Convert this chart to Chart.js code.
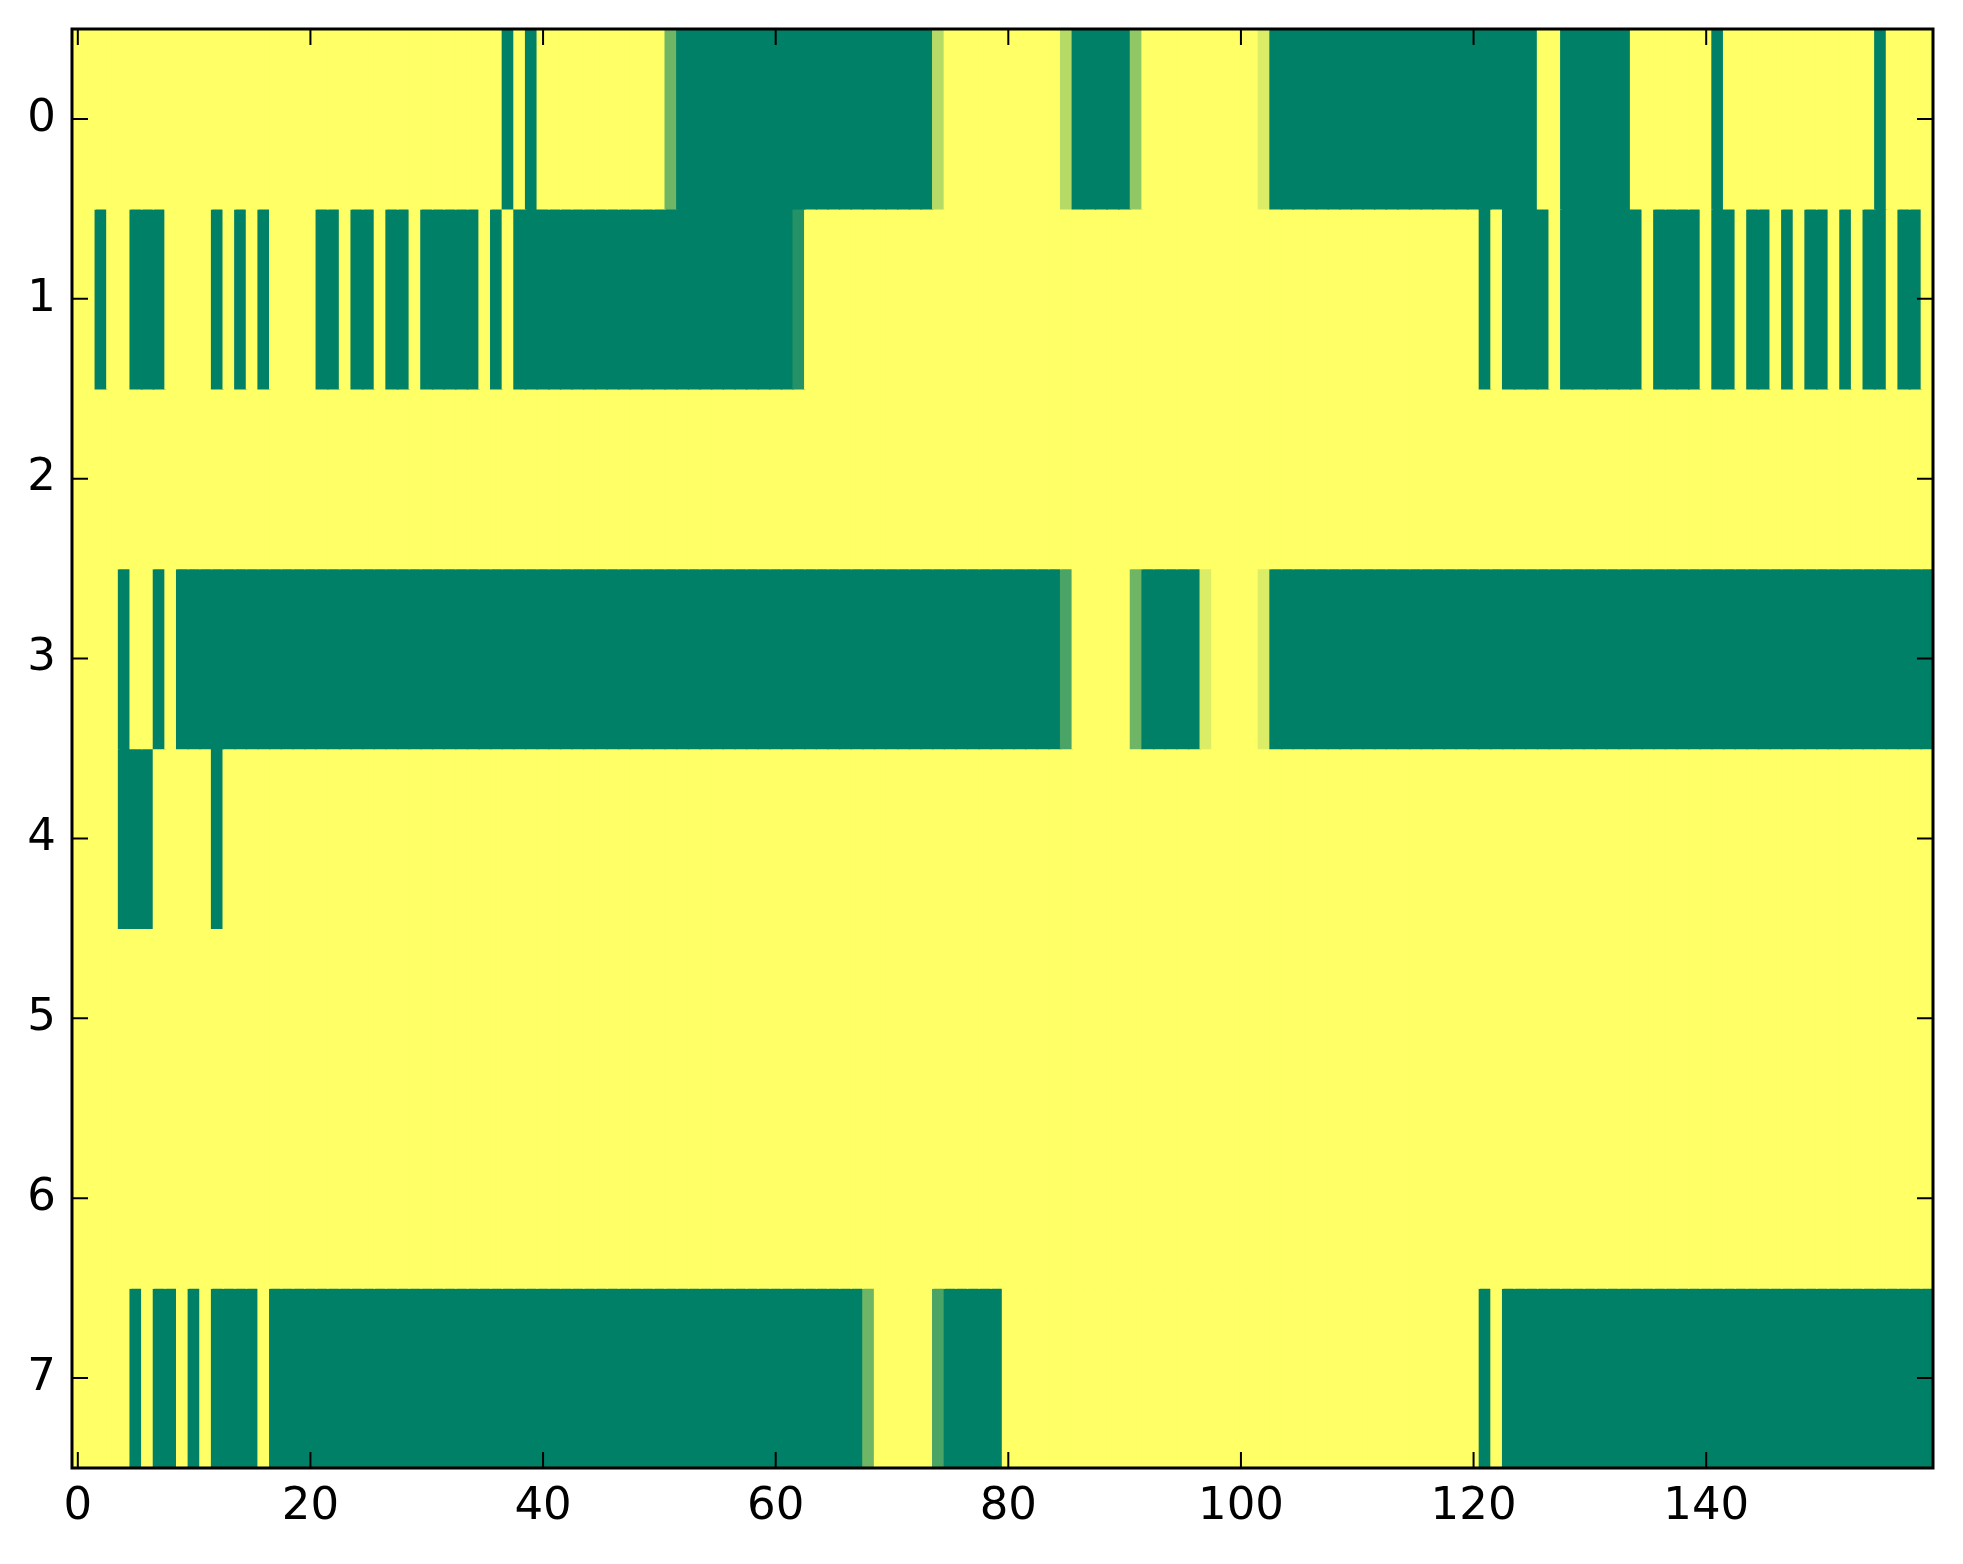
<!DOCTYPE html>
<html>
<head>
<meta charset="utf-8">
<title>Heatmap</title>
<script src="https://cdn.jsdelivr.net/npm/chart.js@4.4.1/dist/chart.umd.min.js"></script>
<style>
  html, body { margin: 0; padding: 0; background: #fff; }
  canvas { display: block; }
</style>
</head>
<body>
<canvas id="heat" width="1963" height="1564"></canvas>
<script>
// tick positions and labels
const rowTicks = [0, 1, 2, 3, 4, 5, 6, 7];
const colTicks = [0, 20, 40, 60, 80, 100, 120, 140];

// one array per row, 160 columns each (1 = yellow, 0 = green)
const row0 = [
  1,1,1,1,1,1,1,1,1,1,1,1,1,1,1,1,1,1,1,1,
  1,1,1,1,1,1,1,1,1,1,1,1,1,1,1,1,1,0,1,0,
  1,1,1,1,1,1,1,1,1,1,1,0.43,0,0,0,0,0,0,0,0,
  0,0,0,0,0,0,0,0,0,0,0,0,0,0,0.71,1,1,1,1,1,
  1,1,1,1,1,0.71,0,0,0,0,0,0.57,1,1,1,1,1,1,1,1,
  1,1,0.86,0,0,0,0,0,0,0,0,0,0,0,0,0,0,0,0,0,
  0,0,0,0,0,0,1,1,0,0,0,0,0,0,1,1,1,1,1,1,
  1,0,1,1,1,1,1,1,1,1,1,1,1,1,1,0,1,1,1,1
];
const row1 = [
  1,1,0,1,1,0,0,0,1,1,1,1,0,1,0,1,0,1,1,1,
  1,0,0,1,0,0,1,0,0,1,0,0,0,0,0,1,0,1,0,0,
  0,0,0,0,0,0,0,0,0,0,0,0,0,0,0,0,0,0,0,0,
  0,0,0.14,1,1,1,1,1,1,1,1,1,1,1,1,1,1,1,1,1,
  1,1,1,1,1,1,1,1,1,1,1,1,1,1,1,1,1,1,1,1,
  1,1,1,1,1,1,1,1,1,1,1,1,1,1,1,1,1,1,1,1,
  1,0,1,0,0,0,0,1,0,0,0,0,0,0,0,1,0,0,0,0,
  1,0,0,1,0,0,1,0,1,0,0,1,0,1,0,0,1,0,0,1
];
const row2 = [
  1,1,1,1,1,1,1,1,1,1,1,1,1,1,1,1,1,1,1,1,
  1,1,1,1,1,1,1,1,1,1,1,1,1,1,1,1,1,1,1,1,
  1,1,1,1,1,1,1,1,1,1,1,1,1,1,1,1,1,1,1,1,
  1,1,1,1,1,1,1,1,1,1,1,1,1,1,1,1,1,1,1,1,
  1,1,1,1,1,1,1,1,1,1,1,1,1,1,1,1,1,1,1,1,
  1,1,1,1,1,1,1,1,1,1,1,1,1,1,1,1,1,1,1,1,
  1,1,1,1,1,1,1,1,1,1,1,1,1,1,1,1,1,1,1,1,
  1,1,1,1,1,1,1,1,1,1,1,1,1,1,1,1,1,1,1,1
];
const row3 = [
  1,1,1,1,0,1,1,0,1,0,0,0,0,0,0,0,0,0,0,0,
  0,0,0,0,0,0,0,0,0,0,0,0,0,0,0,0,0,0,0,0,
  0,0,0,0,0,0,0,0,0,0,0,0,0,0,0,0,0,0,0,0,
  0,0,0,0,0,0,0,0,0,0,0,0,0,0,0,0,0,0,0,0,
  0,0,0,0,0,0.29,1,1,1,1,1,0.43,0,0,0,0,0,0.86,1,1,
  1,1,0.86,0,0,0,0,0,0,0,0,0,0,0,0,0,0,0,0,0,
  0,0,0,0,0,0,0,0,0,0,0,0,0,0,0,0,0,0,0,0,
  0,0,0,0,0,0,0,0,0,0,0,0,0,0,0,0,0,0,0,0
];
const row4 = [
  1,1,1,1,0,0,0,1,1,1,1,1,0,1,1,1,1,1,1,1,
  1,1,1,1,1,1,1,1,1,1,1,1,1,1,1,1,1,1,1,1,
  1,1,1,1,1,1,1,1,1,1,1,1,1,1,1,1,1,1,1,1,
  1,1,1,1,1,1,1,1,1,1,1,1,1,1,1,1,1,1,1,1,
  1,1,1,1,1,1,1,1,1,1,1,1,1,1,1,1,1,1,1,1,
  1,1,1,1,1,1,1,1,1,1,1,1,1,1,1,1,1,1,1,1,
  1,1,1,1,1,1,1,1,1,1,1,1,1,1,1,1,1,1,1,1,
  1,1,1,1,1,1,1,1,1,1,1,1,1,1,1,1,1,1,1,1
];
const row5 = [
  1,1,1,1,1,1,1,1,1,1,1,1,1,1,1,1,1,1,1,1,
  1,1,1,1,1,1,1,1,1,1,1,1,1,1,1,1,1,1,1,1,
  1,1,1,1,1,1,1,1,1,1,1,1,1,1,1,1,1,1,1,1,
  1,1,1,1,1,1,1,1,1,1,1,1,1,1,1,1,1,1,1,1,
  1,1,1,1,1,1,1,1,1,1,1,1,1,1,1,1,1,1,1,1,
  1,1,1,1,1,1,1,1,1,1,1,1,1,1,1,1,1,1,1,1,
  1,1,1,1,1,1,1,1,1,1,1,1,1,1,1,1,1,1,1,1,
  1,1,1,1,1,1,1,1,1,1,1,1,1,1,1,1,1,1,1,1
];
const row6 = [
  1,1,1,1,1,1,1,1,1,1,1,1,1,1,1,1,1,1,1,1,
  1,1,1,1,1,1,1,1,1,1,1,1,1,1,1,1,1,1,1,1,
  1,1,1,1,1,1,1,1,1,1,1,1,1,1,1,1,1,1,1,1,
  1,1,1,1,1,1,1,1,1,1,1,1,1,1,1,1,1,1,1,1,
  1,1,1,1,1,1,1,1,1,1,1,1,1,1,1,1,1,1,1,1,
  1,1,1,1,1,1,1,1,1,1,1,1,1,1,1,1,1,1,1,1,
  1,1,1,1,1,1,1,1,1,1,1,1,1,1,1,1,1,1,1,1,
  1,1,1,1,1,1,1,1,1,1,1,1,1,1,1,1,1,1,1,1
];
const row7 = [
  1,1,1,1,1,0,1,0,0,1,0,1,0,0,0,0,1,0,0,0,
  0,0,0,0,0,0,0,0,0,0,0,0,0,0,0,0,0,0,0,0,
  0,0,0,0,0,0,0,0,0,0,0,0,0,0,0,0,0,0,0,0,
  0,0,0,0,0,0,0,0,0.43,1,1,1,1,1,0.29,0,0,0,0,0,
  1,1,1,1,1,1,1,1,1,1,1,1,1,1,1,1,1,1,1,1,
  1,1,1,1,1,1,1,1,1,1,1,1,1,1,1,1,1,1,1,1,
  1,0,1,0,0,0,0,0,0,0,0,0,0,0,0,0,0,0,0,0,
  0,0,0,0,0,0,0,0,0,0,0,0,0,0,0,0,0,0,0,0
];

const rows = [row0, row1, row2, row3, row4, row5, row6, row7];

// matplotlib "summer": 0 -> (0, .5, .4), 1 -> (1, 1, .4)
function summer(v) {
  const r = Math.round(255 * v);
  const g = Math.round(255 * (0.5 + 0.5 * v));
  return `rgb(${r},${g},102)`;
}

const FONT = { family: '"DejaVu Sans", sans-serif', size: 45 };

const datasets = rows.map((vals, r) => ({
  label: 'row ' + r,
  data: vals.map((v, c) => ({ x: c, y: [r - 0.5, r + 0.5] })),
  backgroundColor: vals.map(summer),
  borderWidth: 0,
  borderSkipped: false,
  grouped: false,
  barPercentage: 1,
  categoryPercentage: 1,
  inflateAmount: 0.7,
}));

// black frame with inward ticks on all four sides
const frame = {
  id: 'frame',
  afterDatasetsDraw(chart) {
    const { ctx, chartArea: a, scales: { x, y } } = chart;
    const len = 16;
    ctx.save();
    ctx.strokeStyle = '#000';
    ctx.lineWidth = 2;
    ctx.beginPath();
    colTicks.forEach(v => {
      const px = x.getPixelForValue(v);
      ctx.moveTo(px, a.bottom); ctx.lineTo(px, a.bottom - len);
      ctx.moveTo(px, a.top);    ctx.lineTo(px, a.top + len);
    });
    rowTicks.forEach(v => {
      const py = y.getPixelForValue(v);
      ctx.moveTo(a.left, py);  ctx.lineTo(a.left + len, py);
      ctx.moveTo(a.right, py); ctx.lineTo(a.right - len, py);
    });
    ctx.stroke();
    ctx.lineWidth = 3;
    ctx.strokeRect(a.left, a.top, a.right - a.left, a.bottom - a.top);
    ctx.restore();
  }
};

new Chart(document.getElementById('heat'), {
  type: 'bar',
  data: { datasets },
  plugins: [frame],
  options: {
    responsive: false,
    animation: false,
    devicePixelRatio: 1,
    layout: { padding: { top: 29, right: 30, left: 0, bottom: 0 } },
    plugins: {
      legend: { display: false },
      tooltip: { enabled: false },
    },
    scales: {
      x: {
        type: 'linear',
        position: 'bottom',
        offset: false,
        min: -0.5,
        max: 159.5,
        grid: { display: false, drawTicks: false, offset: false },
        border: { display: false },
        ticks: { font: FONT, color: '#000', padding: 12, autoSkip: false, maxRotation: 0 },
        afterBuildTicks: s => { s.ticks = colTicks.map(v => ({ value: v })); },
        afterFit: s => { s.height = 96; s.paddingLeft = 0; s.paddingRight = 0; },
      },
      y: {
        type: 'linear',
        reverse: true,
        offset: false,
        min: -0.5,
        max: 7.5,
        grid: { display: false, drawTicks: false },
        border: { display: false },
        ticks: { font: FONT, color: '#000', padding: 16, autoSkip: false },
        afterBuildTicks: s => { s.ticks = rowTicks.map(v => ({ value: v })); },
        afterFit: s => { s.width = 72; s.paddingTop = 0; s.paddingBottom = 0; },
      }
    }
  }
});
</script>
</body>
</html>
